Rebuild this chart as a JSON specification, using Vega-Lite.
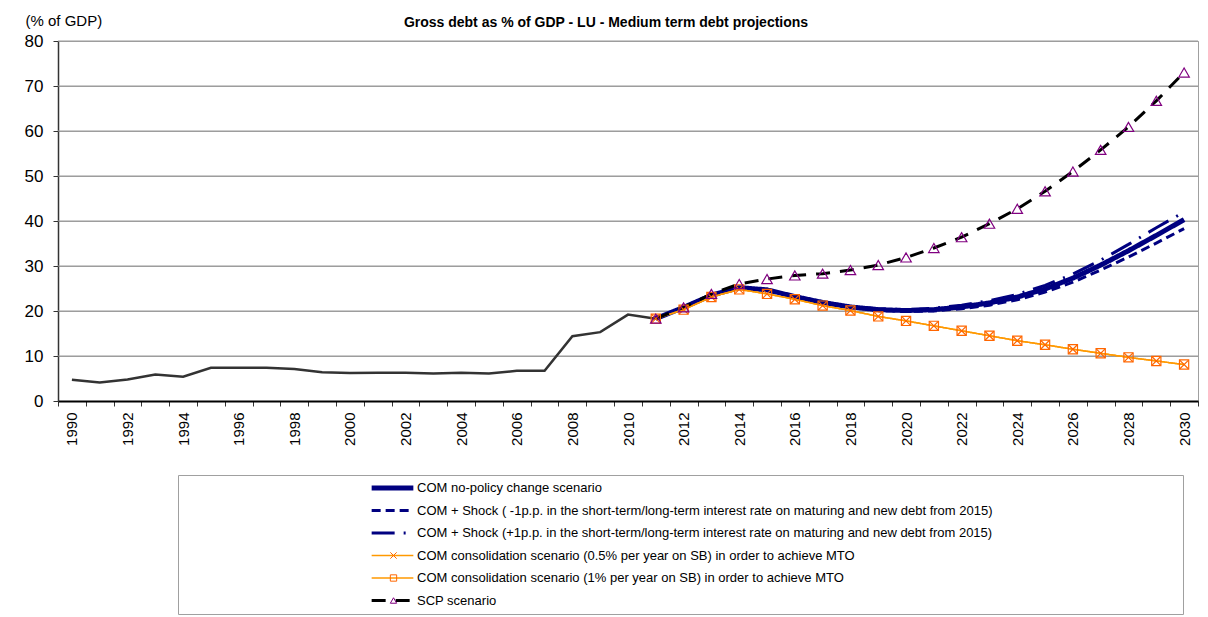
{
  "$schema": "https://vega.github.io/schema/vega-lite/v6.json",
  "width": 1140,
  "height": 360,
  "autosize": {"type": "none"},
  "padding": {"left": 58, "top": 41, "right": 10, "bottom": 216},
  "background": "#ffffff",
  "config": {
    "font": "Liberation Sans",
    "view": {"stroke": "#A0A0A0", "strokeWidth": 1}
  },
  "title": {
    "text": "Gross debt as % of GDP - LU - Medium term debt projections",
    "font": "Liberation Sans",
    "fontSize": 14,
    "fontWeight": "bold",
    "color": "#000000",
    "anchor": "middle",
    "dx": -22,
    "offset": -17
  },
  "datasets": {
    "levels": [
      {"level": 10}, {"level": 20}, {"level": 30}, {"level": 40},
      {"level": 50}, {"level": 60}, {"level": 70}, {"level": 80}
    ],
    "hist": [
      {"year": 1990, "value": 4.7}, {"year": 1991, "value": 4.1}, {"year": 1992, "value": 4.8},
      {"year": 1993, "value": 5.9}, {"year": 1994, "value": 5.4}, {"year": 1995, "value": 7.4},
      {"year": 1996, "value": 7.4}, {"year": 1997, "value": 7.4}, {"year": 1998, "value": 7.1},
      {"year": 1999, "value": 6.4}, {"year": 2000, "value": 6.2}, {"year": 2001, "value": 6.3},
      {"year": 2002, "value": 6.3}, {"year": 2003, "value": 6.1}, {"year": 2004, "value": 6.3},
      {"year": 2005, "value": 6.1}, {"year": 2006, "value": 6.7}, {"year": 2007, "value": 6.7},
      {"year": 2008, "value": 14.4}, {"year": 2009, "value": 15.3}, {"year": 2010, "value": 19.2},
      {"year": 2011, "value": 18.3}
    ],
    "proj": [
      {"year": 2011, "npc": 18.3, "m1": 18.3, "p1": 18.3, "c05": 18.3, "c1": 18.3, "scp": 18.3},
      {"year": 2012, "npc": 20.8, "m1": 20.8, "p1": 20.8, "c05": 20.3, "c1": 20.3, "scp": 20.8},
      {"year": 2013, "npc": 23.5, "m1": 23.5, "p1": 23.5, "c05": 23.1, "c1": 23.1, "scp": 23.8},
      {"year": 2014, "npc": 25.2, "m1": 25.2, "p1": 25.2, "c05": 24.8, "c1": 24.8, "scp": 26.0},
      {"year": 2015, "npc": 24.7, "m1": 24.7, "p1": 24.7, "c05": 23.8, "c1": 23.8, "scp": 27.1},
      {"year": 2016, "npc": 23.2, "m1": 23.1, "p1": 23.3, "c05": 22.6, "c1": 22.6, "scp": 27.9},
      {"year": 2017, "npc": 21.9, "m1": 21.8, "p1": 22.0, "c05": 21.2, "c1": 21.2, "scp": 28.3},
      {"year": 2018, "npc": 20.9, "m1": 20.8, "p1": 21.0, "c05": 20.1, "c1": 20.1, "scp": 29.1},
      {"year": 2019, "npc": 20.3, "m1": 20.1, "p1": 20.5, "c05": 18.8, "c1": 18.8, "scp": 30.2},
      {"year": 2020, "npc": 20.1, "m1": 19.9, "p1": 20.3, "c05": 17.8, "c1": 17.8, "scp": 31.9},
      {"year": 2021, "npc": 20.3, "m1": 20.0, "p1": 20.6, "c05": 16.7, "c1": 16.7, "scp": 34.0},
      {"year": 2022, "npc": 20.9, "m1": 20.5, "p1": 21.3, "c05": 15.6, "c1": 15.6, "scp": 36.4},
      {"year": 2023, "npc": 21.8, "m1": 21.3, "p1": 22.3, "c05": 14.5, "c1": 14.5, "scp": 39.4},
      {"year": 2024, "npc": 23.1, "m1": 22.5, "p1": 23.7, "c05": 13.4, "c1": 13.4, "scp": 42.7},
      {"year": 2025, "npc": 24.9, "m1": 24.2, "p1": 25.7, "c05": 12.5, "c1": 12.5, "scp": 46.6},
      {"year": 2026, "npc": 27.3, "m1": 26.4, "p1": 28.2, "c05": 11.5, "c1": 11.5, "scp": 51.0},
      {"year": 2027, "npc": 30.2, "m1": 29.1, "p1": 31.3, "c05": 10.6, "c1": 10.6, "scp": 55.8},
      {"year": 2028, "npc": 33.4, "m1": 32.0, "p1": 34.8, "c05": 9.7, "c1": 9.7, "scp": 60.9},
      {"year": 2029, "npc": 36.8, "m1": 35.1, "p1": 38.5, "c05": 8.9, "c1": 8.9, "scp": 66.7},
      {"year": 2030, "npc": 40.3, "m1": 38.3, "p1": 42.0, "c05": 8.1, "c1": 8.1, "scp": 73.0}
    ],
    "names": [
      {"key": "npc", "series": "COM no-policy change scenario"},
      {"key": "m1", "series": "COM + Shock ( -1p.p. in the short-term/long-term interest rate on maturing and new debt from 2015)"},
      {"key": "p1", "series": "COM + Shock (+1p.p. in the short-term/long-term interest rate on maturing and new debt from 2015)"},
      {"key": "c05", "series": "COM consolidation scenario (0.5% per year on SB) in order to achieve MTO"},
      {"key": "c1", "series": "COM consolidation scenario (1% per year on SB) in order to achieve MTO"},
      {"key": "scp", "series": "SCP scenario"}
    ]
  },
  "layer": [
    {
      "data": {"name": "levels"},
      "mark": {"type": "rule", "color": "#999999", "strokeWidth": 1.2},
      "encoding": {
        "y": {
          "field": "level", "type": "quantitative",
          "scale": {"domain": [0, 80], "nice": false},
          "axis": {
            "title": "(% of GDP)", "titleAngle": 0, "titleAlign": "left", "titleBaseline": "middle",
            "titleX": -33, "titleY": -21, "titleFontSize": 15, "titleFontWeight": "normal", "titleColor": "#000000",
            "tickCount": 8, "grid": true, "gridColor": "#A0A0A0", "gridWidth": 1,
            "labelFontSize": 17, "labelColor": "#000000", "labelPadding": 10,
            "tickSize": 5, "tickColor": "#333333",
            "domainColor": "#333333", "domainWidth": 1.5
          }
        }
      }
    },
    {
      "data": {"name": "hist"},
      "mark": {"type": "line", "color": "#333333", "strokeWidth": 2.5},
      "encoding": {
        "x": {
          "field": "year", "type": "quantitative",
          "scale": {"domain": [1989.5, 2030.5], "nice": false, "zero": false},
          "axis": {
            "orient": "bottom", "title": null,
            "values": [1989.5, 1990, 1990.5, 1991.5, 1992, 1992.5, 1993.5, 1994, 1994.5, 1995.5, 1996, 1996.5, 1997.5, 1998, 1998.5, 1999.5, 2000, 2000.5, 2001.5, 2002, 2002.5, 2003.5, 2004, 2004.5, 2005.5, 2006, 2006.5, 2007.5, 2008, 2008.5, 2009.5, 2010, 2010.5, 2011.5, 2012, 2012.5, 2013.5, 2014, 2014.5, 2015.5, 2016, 2016.5, 2017.5, 2018, 2018.5, 2019.5, 2020, 2020.5, 2021.5, 2022, 2022.5, 2023.5, 2024, 2024.5, 2025.5, 2026, 2026.5, 2027.5, 2028, 2028.5, 2029.5, 2030, 2030.5],
            "labelExpr": "datum.value % 2 == 0 ? format(datum.value, 'd') : ''",
            "labelAngle": -90, "labelAlign": "right", "labelBaseline": "middle",
            "labelFontSize": 15, "labelColor": "#000000", "labelPadding": 6,
            "labelOverlap": false, "labelFlush": false,
            "ticks": true, "tickSize": 5, "tickColor": "#333333", "tickWidth": 1,
            "tickOpacity": {"condition": {"test": "datum.value % 1 == 0", "value": 0}, "value": 1},
            "grid": false,
            "domain": true, "domainColor": "#000000", "domainWidth": 2
          }
        },
        "y": {
          "field": "value", "type": "quantitative",
          "axis": {
            "title": "(% of GDP)", "titleAngle": 0, "titleAlign": "left", "titleBaseline": "middle",
            "titleX": -33, "titleY": -21, "titleFontSize": 15, "titleFontWeight": "normal", "titleColor": "#000000",
            "tickCount": 8, "grid": true, "gridColor": "#A0A0A0", "gridWidth": 1,
            "labelFontSize": 17, "labelColor": "#000000", "labelPadding": 10,
            "tickSize": 5, "tickColor": "#333333",
            "domainColor": "#333333", "domainWidth": 1.5
          }
        }
      }
    },
    {
      "data": {"name": "proj"},
      "transform": [
        {"fold": ["npc", "m1", "p1", "c05", "c1", "scp"], "as": ["key", "value"]},
        {"lookup": "key", "from": {"data": {"name": "names"}, "key": "key", "fields": ["series"]}}
      ],
      "mark": {"type": "line"},
      "encoding": {
        "x": {
          "field": "year", "type": "quantitative",
          "axis": {
            "orient": "bottom", "title": null,
            "values": [1989.5, 1990, 1990.5, 1991.5, 1992, 1992.5, 1993.5, 1994, 1994.5, 1995.5, 1996, 1996.5, 1997.5, 1998, 1998.5, 1999.5, 2000, 2000.5, 2001.5, 2002, 2002.5, 2003.5, 2004, 2004.5, 2005.5, 2006, 2006.5, 2007.5, 2008, 2008.5, 2009.5, 2010, 2010.5, 2011.5, 2012, 2012.5, 2013.5, 2014, 2014.5, 2015.5, 2016, 2016.5, 2017.5, 2018, 2018.5, 2019.5, 2020, 2020.5, 2021.5, 2022, 2022.5, 2023.5, 2024, 2024.5, 2025.5, 2026, 2026.5, 2027.5, 2028, 2028.5, 2029.5, 2030, 2030.5],
            "labelExpr": "datum.value % 2 == 0 ? format(datum.value, 'd') : ''",
            "labelAngle": -90, "labelAlign": "right", "labelBaseline": "middle",
            "labelFontSize": 15, "labelColor": "#000000", "labelPadding": 6,
            "labelOverlap": false, "labelFlush": false,
            "ticks": true, "tickSize": 5, "tickColor": "#333333", "tickWidth": 1,
            "tickOpacity": {"condition": {"test": "datum.value % 1 == 0", "value": 0}, "value": 1},
            "grid": false,
            "domain": true, "domainColor": "#000000", "domainWidth": 2
          }
        },
        "y": {
          "field": "value", "type": "quantitative",
          "axis": {
            "title": "(% of GDP)", "titleAngle": 0, "titleAlign": "left", "titleBaseline": "middle",
            "titleX": -33, "titleY": -21, "titleFontSize": 15, "titleFontWeight": "normal", "titleColor": "#000000",
            "tickCount": 8, "grid": true, "gridColor": "#A0A0A0", "gridWidth": 1,
            "labelFontSize": 17, "labelColor": "#000000", "labelPadding": 10,
            "tickSize": 5, "tickColor": "#333333",
            "domainColor": "#333333", "domainWidth": 1.5
          }
        },
        "color": {
          "field": "series", "type": "nominal",
          "scale": {
            "domain": [
              "COM no-policy change scenario",
              "COM + Shock ( -1p.p. in the short-term/long-term interest rate on maturing and new debt from 2015)",
              "COM + Shock (+1p.p. in the short-term/long-term interest rate on maturing and new debt from 2015)",
              "COM consolidation scenario (0.5% per year on SB) in order to achieve MTO",
              "COM consolidation scenario (1% per year on SB) in order to achieve MTO",
              "SCP scenario"
            ],
            "range": ["#000080", "#000080", "#000080", "#FF9900", "#FF9900", "#000000"]
          },
          "legend": {
            "orient": "none", "legendX": 120, "legendY": 434, "title": null, "direction": "vertical",
            "symbolType": "stroke", "symbolSize": 1739, "symbolOffset": 185, "labelOffset": 1,
            "labelFont": "Liberation Sans", "labelFontSize": 13, "labelColor": "#000000", "labelLimit": 900,
            "padding": 6, "rowPadding": 8.5, "clipHeight": 14
          }
        },
        "strokeDash": {
          "field": "series", "type": "nominal",
          "scale": {
            "type": "ordinal",
            "domain": [
              "COM no-policy change scenario",
              "COM + Shock ( -1p.p. in the short-term/long-term interest rate on maturing and new debt from 2015)",
              "COM + Shock (+1p.p. in the short-term/long-term interest rate on maturing and new debt from 2015)",
              "COM consolidation scenario (0.5% per year on SB) in order to achieve MTO",
              "COM consolidation scenario (1% per year on SB) in order to achieve MTO",
              "SCP scenario"
            ],
            "range": [[1, 0], [9, 5], [23, 9, 2, 9], [1, 0], [1, 0], [14, 10]]
          },
          "legend": {
            "orient": "none", "legendX": 120, "legendY": 434, "title": null, "direction": "vertical",
            "symbolType": "stroke", "symbolSize": 1739, "symbolOffset": 185, "labelOffset": 1,
            "labelFont": "Liberation Sans", "labelFontSize": 13, "labelColor": "#000000", "labelLimit": 900,
            "padding": 6, "rowPadding": 8.5, "clipHeight": 14
          }
        },
        "strokeWidth": {
          "field": "series", "type": "nominal",
          "scale": {
            "type": "ordinal",
            "domain": [
              "COM no-policy change scenario",
              "COM + Shock ( -1p.p. in the short-term/long-term interest rate on maturing and new debt from 2015)",
              "COM + Shock (+1p.p. in the short-term/long-term interest rate on maturing and new debt from 2015)",
              "COM consolidation scenario (0.5% per year on SB) in order to achieve MTO",
              "COM consolidation scenario (1% per year on SB) in order to achieve MTO",
              "SCP scenario"
            ],
            "range": [5, 3, 3, 1.5, 1.5, 3]
          },
          "legend": {
            "orient": "none", "legendX": 120, "legendY": 434, "title": null, "direction": "vertical",
            "symbolType": "stroke", "symbolSize": 1739, "symbolOffset": 185, "labelOffset": 1,
            "labelFont": "Liberation Sans", "labelFontSize": 13, "labelColor": "#000000", "labelLimit": 900,
            "padding": 6, "rowPadding": 8.5, "clipHeight": 14
          }
        }
      }
    },
    {
      "data": {"name": "proj"},
      "transform": [
        {"fold": ["c05", "c1", "scp"], "as": ["key", "value"]},
        {"lookup": "key", "from": {"data": {"name": "names"}, "key": "key", "fields": ["series"]}}
      ],
      "mark": {"type": "point", "filled": false, "strokeWidth": 1.2, "opacity": 1},
      "encoding": {
        "x": {
          "field": "year", "type": "quantitative",
          "axis": {
            "orient": "bottom", "title": null,
            "values": [1989.5, 1990, 1990.5, 1991.5, 1992, 1992.5, 1993.5, 1994, 1994.5, 1995.5, 1996, 1996.5, 1997.5, 1998, 1998.5, 1999.5, 2000, 2000.5, 2001.5, 2002, 2002.5, 2003.5, 2004, 2004.5, 2005.5, 2006, 2006.5, 2007.5, 2008, 2008.5, 2009.5, 2010, 2010.5, 2011.5, 2012, 2012.5, 2013.5, 2014, 2014.5, 2015.5, 2016, 2016.5, 2017.5, 2018, 2018.5, 2019.5, 2020, 2020.5, 2021.5, 2022, 2022.5, 2023.5, 2024, 2024.5, 2025.5, 2026, 2026.5, 2027.5, 2028, 2028.5, 2029.5, 2030, 2030.5],
            "labelExpr": "datum.value % 2 == 0 ? format(datum.value, 'd') : ''",
            "labelAngle": -90, "labelAlign": "right", "labelBaseline": "middle",
            "labelFontSize": 15, "labelColor": "#000000", "labelPadding": 6,
            "labelOverlap": false, "labelFlush": false,
            "ticks": true, "tickSize": 5, "tickColor": "#333333", "tickWidth": 1,
            "tickOpacity": {"condition": {"test": "datum.value % 1 == 0", "value": 0}, "value": 1},
            "grid": false,
            "domain": true, "domainColor": "#000000", "domainWidth": 2
          }
        },
        "y": {
          "field": "value", "type": "quantitative",
          "axis": {
            "title": "(% of GDP)", "titleAngle": 0, "titleAlign": "left", "titleBaseline": "middle",
            "titleX": -33, "titleY": -21, "titleFontSize": 15, "titleFontWeight": "normal", "titleColor": "#000000",
            "tickCount": 8, "grid": true, "gridColor": "#A0A0A0", "gridWidth": 1,
            "labelFontSize": 17, "labelColor": "#000000", "labelPadding": 10,
            "tickSize": 5, "tickColor": "#333333",
            "domainColor": "#333333", "domainWidth": 1.5
          }
        },
        "size": {
          "field": "series", "type": "nominal", "legend": null,
          "scale": {
            "type": "ordinal",
            "domain": [
              "COM consolidation scenario (0.5% per year on SB) in order to achieve MTO",
              "COM consolidation scenario (1% per year on SB) in order to achieve MTO",
              "SCP scenario"
            ],
            "range": [80, 85, 110]
          }
        },
        "shape": {
          "field": "series", "type": "nominal",
          "scale": {
            "domain": [
              "COM no-policy change scenario",
              "COM + Shock ( -1p.p. in the short-term/long-term interest rate on maturing and new debt from 2015)",
              "COM + Shock (+1p.p. in the short-term/long-term interest rate on maturing and new debt from 2015)",
              "COM consolidation scenario (0.5% per year on SB) in order to achieve MTO",
              "COM consolidation scenario (1% per year on SB) in order to achieve MTO",
              "SCP scenario",
              "none"
            ],
            "range": ["M0,0", "M0,0", "M0,0", "M-1,-1L1,1M-1,1L1,-1", "square", "triangle-up", "M0,0"]
          },
          "legend": {
            "orient": "none", "legendX": 120, "legendY": 434, "title": null, "direction": "vertical",
            "values": [
              "COM no-policy change scenario",
              "COM + Shock ( -1p.p. in the short-term/long-term interest rate on maturing and new debt from 2015)",
              "COM + Shock (+1p.p. in the short-term/long-term interest rate on maturing and new debt from 2015)",
              "COM consolidation scenario (0.5% per year on SB) in order to achieve MTO",
              "COM consolidation scenario (1% per year on SB) in order to achieve MTO",
              "SCP scenario"
            ],
            "labelExpr": "datum.value == 'SCP scenario' ? '.' : ''",
            "labelOpacity": 0,
            "symbolSize": 40, "symbolStrokeWidth": 1, "symbolOffset": 203, "labelOffset": 773,
            "labelFontSize": 13, "labelLimit": 2000,
            "padding": 6, "rowPadding": 8.5, "clipHeight": 14,
            "strokeColor": "#A0A0A0"
          }
        },
        "stroke": {
          "field": "series", "type": "nominal",
          "scale": {
            "domain": [
              "COM no-policy change scenario",
              "COM + Shock ( -1p.p. in the short-term/long-term interest rate on maturing and new debt from 2015)",
              "COM + Shock (+1p.p. in the short-term/long-term interest rate on maturing and new debt from 2015)",
              "COM consolidation scenario (0.5% per year on SB) in order to achieve MTO",
              "COM consolidation scenario (1% per year on SB) in order to achieve MTO",
              "SCP scenario",
              "none"
            ],
            "range": ["transparent", "transparent", "transparent", "#FF6600", "#FF6600", "#800080", "transparent"]
          },
          "legend": {
            "orient": "none", "legendX": 120, "legendY": 434, "title": null, "direction": "vertical",
            "values": [
              "COM no-policy change scenario",
              "COM + Shock ( -1p.p. in the short-term/long-term interest rate on maturing and new debt from 2015)",
              "COM + Shock (+1p.p. in the short-term/long-term interest rate on maturing and new debt from 2015)",
              "COM consolidation scenario (0.5% per year on SB) in order to achieve MTO",
              "COM consolidation scenario (1% per year on SB) in order to achieve MTO",
              "SCP scenario"
            ],
            "labelExpr": "datum.value == 'SCP scenario' ? '.' : ''",
            "labelOpacity": 0,
            "symbolSize": 40, "symbolStrokeWidth": 1, "symbolOffset": 203, "labelOffset": 773,
            "labelFontSize": 13, "labelLimit": 2000,
            "padding": 6, "rowPadding": 8.5, "clipHeight": 14,
            "strokeColor": "#A0A0A0"
          }
        }
      }
    }
  ]
}
